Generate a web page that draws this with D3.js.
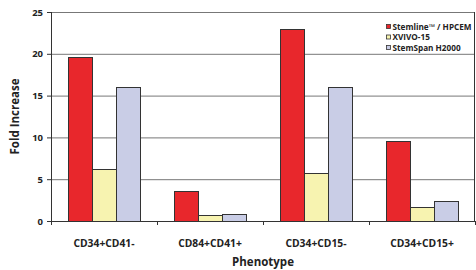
<!DOCTYPE html>
<html>
<head>
<meta charset="utf-8">
<script src="https://cdn.jsdelivr.net/npm/d3@7/dist/d3.min.js"></script>
<style>
  body { margin: 0; background: #fff; }
  svg text { font-family: "Open Sans", sans-serif; font-weight: bold; fill: #222; }
</style>
</head>
<body>
<div id="chart"></div>
<script>
// categorias e séries
var categorias = ["CD34+CD41-", "CD84+CD41+", "CD34+CD15-", "CD34+CD15+"];
var series = ["Stemline™ / HPCEM", "XVIVO-15", "StemSpan H2000"];
var cores = ["#e8272c", "#f7f3b0", "#c9cde6"];
var stemline = [19.6, 3.6, 23.0, 9.6];
var xvivo = [6.2, 0.7, 5.7, 1.7];
var stemspan = [16.0, 0.8, 16.0, 2.4];
var yTicks = [0, 5, 10, 15, 20, 25];

var valores = [stemline, xvivo, stemspan];

var largura = 476, altura = 270;
var margin = {top: 12, right: 1, bottom: 49, left: 51};
var width = largura - margin.left - margin.right,
    height = altura - margin.top - margin.bottom;

var svg = d3.select("#chart")
    .append("svg")
    .attr("width", largura)
    .attr("height", altura)
    .append("g")
    .attr("transform", "translate(" + margin.left + "," + margin.top + ")");

var x0 = d3.scaleBand()
    .domain(categorias)
    .range([0, width]);

var x1 = d3.scaleBand()
    .domain(series)
    .range([0, x0.bandwidth()])
    .paddingOuter(0.71);

var y = d3.scaleLinear()
    .domain([0, 25])
    .range([height, 0]);

// linhas de grade
svg.append("g")
    .selectAll("line")
    .data(yTicks.slice(1))
    .enter().append("line")
    .attr("x1", 0)
    .attr("x2", width)
    .attr("y1", function (d) { return y(d) + 0.5; })
    .attr("y2", function (d) { return y(d) + 0.5; })
    .attr("stroke", "#777")
    .attr("stroke-width", 1);

// borda direita
svg.append("line")
    .attr("x1", width - 0.5).attr("x2", width - 0.5)
    .attr("y1", 0).attr("y2", height)
    .attr("stroke", "#333");

// barras
var grupos = svg.append("g")
    .selectAll("g")
    .data(categorias)
    .enter().append("g")
    .attr("transform", function (d) { return "translate(" + x0(d) + ",0)"; });

grupos.selectAll("rect")
    .data(function (d, i) {
        return series.map(function (s, j) { return {serie: s, valor: valores[j][i], cor: cores[j]}; });
    })
    .enter().append("rect")
    .attr("x", function (d) { return Math.round(x1(d.serie)) + 0.5; })
    .attr("y", function (d) { return Math.round(y(d.valor)) + 0.5; })
    .attr("width", Math.round(x1.bandwidth()))
    .attr("height", function (d) { return height - Math.round(y(d.valor)); })
    .attr("fill", function (d) { return d.cor; })
    .attr("stroke", "#333")
    .attr("stroke-width", 1);

// eixo y
var eixoY = svg.append("g")
    .call(d3.axisLeft(y).tickValues(yTicks).tickSize(4).tickPadding(4));
eixoY.select(".domain").attr("stroke", "#333").attr("d", "M0.5,0V" + height);
eixoY.selectAll(".tick line").attr("stroke", "#333");
eixoY.selectAll("text").style("font-size", "9.5px").attr("fill", "#222");

// eixo x
var eixoX = svg.append("g")
    .attr("transform", "translate(0," + height + ")")
    .call(d3.axisBottom(x0).tickSize(0).tickPadding(19));
eixoX.select(".domain").attr("stroke", "#333").attr("d", "M0,0.5H" + width);
eixoX.selectAll("text").style("font-size", "10.3px").attr("fill", "#222");

eixoX.selectAll(".sep")
    .data(categorias.concat(["fim"]))
    .enter().append("line")
    .attr("class", "sep")
    .attr("x1", function (d, i) { return Math.round(i * x0.step()) + 0.5; })
    .attr("x2", function (d, i) { return Math.round(i * x0.step()) + 0.5; })
    .attr("y1", 0).attr("y2", 4)
    .attr("stroke", "#333");

// títulos dos eixos
svg.append("text")
    .attr("transform", "translate(" + (-32) + "," + (height / 2) + ") rotate(-90)")
    .attr("text-anchor", "middle")
    .style("font-size", "11.5px")
    .text("Fold Increase");

svg.append("text")
    .attr("x", width / 2)
    .attr("y", height + 45)
    .attr("text-anchor", "middle")
    .style("font-size", "11.5px")
    .text("Phenotype");

// legenda
var legenda = svg.append("g")
    .attr("transform", "translate(" + (386 - margin.left) + "," + (27 - margin.top) + ")");

var itens = legenda.selectAll("g")
    .data(series)
    .enter().append("g")
    .attr("transform", function (d, i) { return "translate(0," + (i * 10.5) + ")"; });

itens.append("rect")
    .attr("x", 0.5).attr("y", -2.5)
    .attr("width", 4).attr("height", 4)
    .attr("fill", function (d, i) { return cores[i]; })
    .attr("stroke", "#333")
    .attr("stroke-width", 0.8);

itens.append("text")
    .attr("x", 6.5)
    .attr("y", 0)
    .attr("dy", "0.35em")
    .style("font-size", "8.2px")
    .text(function (d) { return d; });
</script>
</body>
</html>
